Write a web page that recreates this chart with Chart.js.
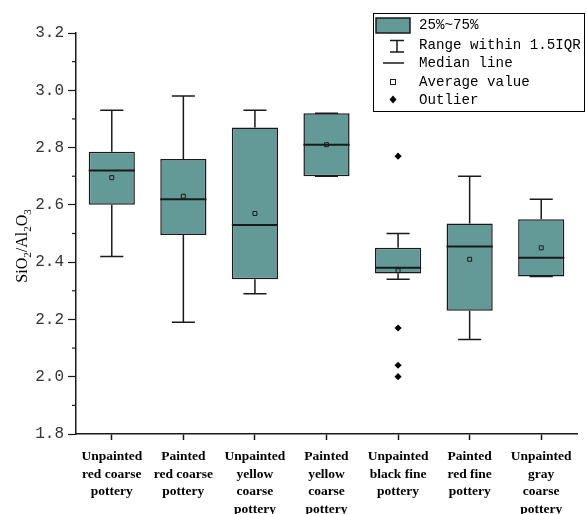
<!DOCTYPE html>
<html>
<head>
<meta charset="utf-8">
<script src="https://cdn.jsdelivr.net/npm/chart.js@4/dist/chart.umd.min.js"></script>
<style>
  body { margin: 0; background: #fff; }
  #wrap { width: 587px; height: 514px; }
</style>
</head>
<body>
<div id="wrap"><canvas id="chartCanvas" width="587" height="514"></canvas></div>
<script>
// pottery types (x categories, one label line per entry)
const categories = [
  ['Unpainted', 'red coarse', 'pottery'],
  ['Painted', 'red coarse', 'pottery'],
  ['Unpainted', 'yellow', 'coarse', 'pottery'],
  ['Painted', 'yellow', 'coarse', 'pottery'],
  ['Unpainted', 'black fine', 'pottery'],
  ['Painted', 'red fine', 'pottery'],
  ['Unpainted', 'gray', 'coarse', 'pottery']
];

// SiO2/Al2O3 box statistics
const whiskerMin = [2.42, 2.19, 2.29, 2.70, 2.34, 2.13, 2.35];
const q1Values   = [2.60, 2.495, 2.34, 2.70, 2.36, 2.23, 2.35];
const medians    = [2.72, 2.62, 2.53, 2.81, 2.38, 2.455, 2.415];
const q3Values   = [2.785, 2.76, 2.87, 2.92, 2.45, 2.535, 2.55];
const whiskerMax = [2.93, 2.98, 2.93, 2.92, 2.50, 2.70, 2.62];
const means      = [2.695, 2.63, 2.57, 2.81, 2.37, 2.41, 2.45];

// outliers: category index + value
const outlierCats   = [4, 4, 4, 4];
const outlierValues = [2.77, 2.17, 2.04, 2.00];

// y axis
const yMin = 1.8;
const yMax = 3.2;
const yStep = 0.1;

const BOX_FILL = '#639a98';
const INK = '#1a1a1a';

// whiskers, caps and median lines drawn right after the box bars
const boxExtras = {
  id: 'boxExtras',
  afterDatasetDraw(chart, args) {
    if (args.index !== 0) return;
    const ctx = chart.ctx;
    const y = chart.scales.y;
    const meta = chart.getDatasetMeta(0);
    ctx.save();
    ctx.strokeStyle = INK;
    meta.data.forEach((bar, i) => {
      const cx = bar.x;
      const half = bar.width / 2;
      const capHalf = half / 2;
      const yMaxPx = y.getPixelForValue(whiskerMax[i]);
      const yMinPx = y.getPixelForValue(whiskerMin[i]);
      const yQ1 = y.getPixelForValue(q1Values[i]);
      const yQ3 = y.getPixelForValue(q3Values[i]);
      const yMed = y.getPixelForValue(medians[i]);
      ctx.lineWidth = 1.5;
      ctx.beginPath();
      ctx.moveTo(cx, yQ3); ctx.lineTo(cx, yMaxPx);
      ctx.moveTo(cx, yQ1); ctx.lineTo(cx, yMinPx);
      ctx.moveTo(cx - capHalf, yMaxPx); ctx.lineTo(cx + capHalf, yMaxPx);
      ctx.moveTo(cx - capHalf, yMinPx); ctx.lineTo(cx + capHalf, yMinPx);
      ctx.stroke();
      ctx.lineWidth = 2;
      ctx.beginPath();
      ctx.moveTo(cx - half, yMed); ctx.lineTo(cx + half, yMed);
      ctx.stroke();
    });
    ctx.restore();
  }
};

// minor y ticks, y title with subscripts, and the boxed legend
const decorations = {
  id: 'decorations',
  afterDraw(chart) {
    const ctx = chart.ctx;
    const y = chart.scales.y;
    const left = chart.chartArea.left;
    ctx.save();

    // minor ticks on the y axis
    ctx.strokeStyle = INK;
    ctx.lineWidth = 1.2;
    y.ticks.forEach(t => {
      if (Math.round(t.value * 10) % 2 !== 0) {
        const py = y.getPixelForValue(t.value);
        ctx.beginPath();
        ctx.moveTo(left - 4, py);
        ctx.lineTo(left, py);
        ctx.stroke();
      }
    });

    // y axis title: SiO2/Al2O3
    const parts = [['SiO', false], ['2', true], ['/Al', false], ['2', true], ['O', false], ['3', true]];
    const big = '16px "Liberation Serif"';
    const small = '11px "Liberation Serif"';
    let total = 0;
    parts.forEach(p => { ctx.font = p[1] ? small : big; total += ctx.measureText(p[0]).width; });
    ctx.translate(22, 246);
    ctx.rotate(-Math.PI / 2);
    ctx.fillStyle = '#000';
    ctx.textBaseline = 'alphabetic';
    let px = -total / 2;
    parts.forEach(p => {
      ctx.font = p[1] ? small : big;
      ctx.fillText(p[0], px, p[1] ? 9 : 5);
      px += ctx.measureText(p[0]).width;
    });
    ctx.setTransform(1, 0, 0, 1, 0, 0);

    // legend
    ctx.strokeStyle = '#000';
    ctx.lineWidth = 1;
    ctx.fillStyle = '#fff';
    ctx.fillRect(373.5, 13.5, 211, 98);
    ctx.strokeRect(373.5, 13.5, 211, 98);
    const rows = [25, 45, 63, 82, 100.5];
    const texts = ['25%~75%', 'Range within 1.5IQR', 'Median line', 'Average value', 'Outlier'];
    const sx = 393;
    // box swatch
    ctx.fillStyle = BOX_FILL;
    ctx.fillRect(376, 18, 34, 15);
    ctx.strokeStyle = INK;
    ctx.lineWidth = 1.5;
    ctx.strokeRect(376, 18, 34, 15);
    // range I-bar
    ctx.beginPath();
    ctx.moveTo(sx + 4, 40); ctx.lineTo(sx + 4, 52);
    ctx.moveTo(sx - 3, 40.5); ctx.lineTo(sx + 11, 40.5);
    ctx.moveTo(sx - 3, 52); ctx.lineTo(sx + 11, 52);
    ctx.stroke();
    // median line
    ctx.beginPath();
    ctx.moveTo(383, 63); ctx.lineTo(404, 63);
    ctx.stroke();
    // average square
    ctx.lineWidth = 1;
    ctx.strokeRect(sx - 2.5, 79.5, 5, 5);
    // outlier diamond
    ctx.fillStyle = '#000';
    ctx.beginPath();
    ctx.moveTo(sx, 95.5); ctx.lineTo(sx + 3.5, 99.5); ctx.lineTo(sx, 103.5); ctx.lineTo(sx - 3.5, 99.5);
    ctx.closePath();
    ctx.fill();
    // legend text
    ctx.font = '14.2px "Liberation Mono"';
    ctx.textBaseline = 'middle';
    ctx.fillStyle = '#000';
    texts.forEach((t, i) => ctx.fillText(t, 419, rows[i]));

    ctx.restore();
  }
};

// one point dataset per outlier, null in the other categories
const outlierSets = outlierCats.map((cat, k) => ({
  type: 'line',
  order: 1,
  data: categories.map((c, i) => (i === cat ? outlierValues[k] : null)),
  showLine: false,
  pointStyle: 'rectRot',
  pointRadius: 3.6,
  pointBorderWidth: 0,
  pointBackgroundColor: '#000'
}));

const ctx = document.getElementById('chartCanvas').getContext('2d');
new Chart(ctx, {
  data: {
    labels: categories,
    datasets: [
      {
        type: 'bar',
        order: 2,
        data: categories.map((c, i) => [q1Values[i], q3Values[i]]),
        backgroundColor: BOX_FILL,
        borderColor: INK,
        borderWidth: 1.5,
        borderSkipped: false,
        barPercentage: 0.645,
        categoryPercentage: 1
      },
      {
        type: 'line',
        order: 1,
        data: means,
        showLine: false,
        pointStyle: 'rect',
        pointRadius: 2.8,
        pointBorderWidth: 1,
        pointBorderColor: INK,
        pointBackgroundColor: 'rgba(0,0,0,0)'
      },
      ...outlierSets
    ]
  },
  options: {
    responsive: false,
    animation: false,
    layout: { padding: { top: 33, right: 10, left: 0, bottom: 0 } },
    plugins: { legend: { display: false }, tooltip: { enabled: false } },
    scales: {
      x: {
        type: 'category',
        offset: true,
        grid: { drawOnChartArea: false, offset: false, tickLength: 6, tickColor: INK, tickWidth: 1.5 },
        border: { color: INK, width: 1.5 },
        ticks: {
          autoSkip: false,
          maxRotation: 0,
          padding: 8,
          color: '#000',
          font: { family: '"Liberation Serif"', weight: 'bold', size: 13.5, lineHeight: 1.3 }
        },
        afterFit(scale) { scale.height = 80; }
      },
      y: {
        min: yMin,
        max: yMax,
        grid: {
          drawOnChartArea: false,
          tickLength: 8,
          tickWidth: 1.2,
          tickColor: c => (c.tick && Math.round(c.tick.value * 10) % 2 === 0) ? INK : 'rgba(0,0,0,0)'
        },
        border: { color: INK, width: 1.5 },
        ticks: {
          stepSize: yStep,
          padding: 4,
          color: '#333',
          font: { family: '"Liberation Mono"', size: 16 },
          callback: v => (Math.round(v * 10) % 2 === 0 ? v.toFixed(1) : '')
        },
        afterFit(scale) { scale.width = 76; }
      }
    }
  },
  plugins: [boxExtras, decorations]
});
</script>
</body>
</html>
